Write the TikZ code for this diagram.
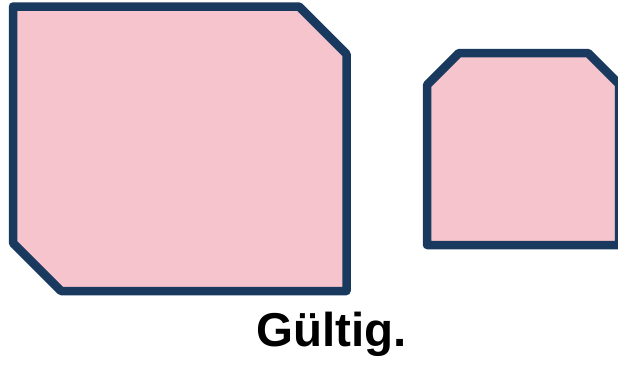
\documentclass[tikz,border=0pt]{standalone}
\usepackage{fontspec}
\setmainfont{Liberation Sans}
\definecolor{pinkfill}{RGB}{246,196,204}
\definecolor{navy}{RGB}{26,57,94}
\begin{document}
\begin{tikzpicture}[x=1pt,y=-1pt,
  poly/.style={fill=pinkfill,draw=navy,line width=8.5pt,line join=round}]
\useasboundingbox (0,0) rectangle (618,367);
\draw[poly] (13,6.5) -- (299,6.5) -- (346.5,54) -- (346.5,291) -- (61,291) -- (13,243) -- cycle;
\draw[poly] (427,85) -- (459,53) -- (588,53) -- (619,84) -- (619,245) -- (427,245) -- cycle;
\node[anchor=base,inner sep=0pt,font=\fontsize{47.5}{52}\selectfont\bfseries] (lbl) at (331.7,346.7) {Gültig.};
\end{tikzpicture}
\end{document}
